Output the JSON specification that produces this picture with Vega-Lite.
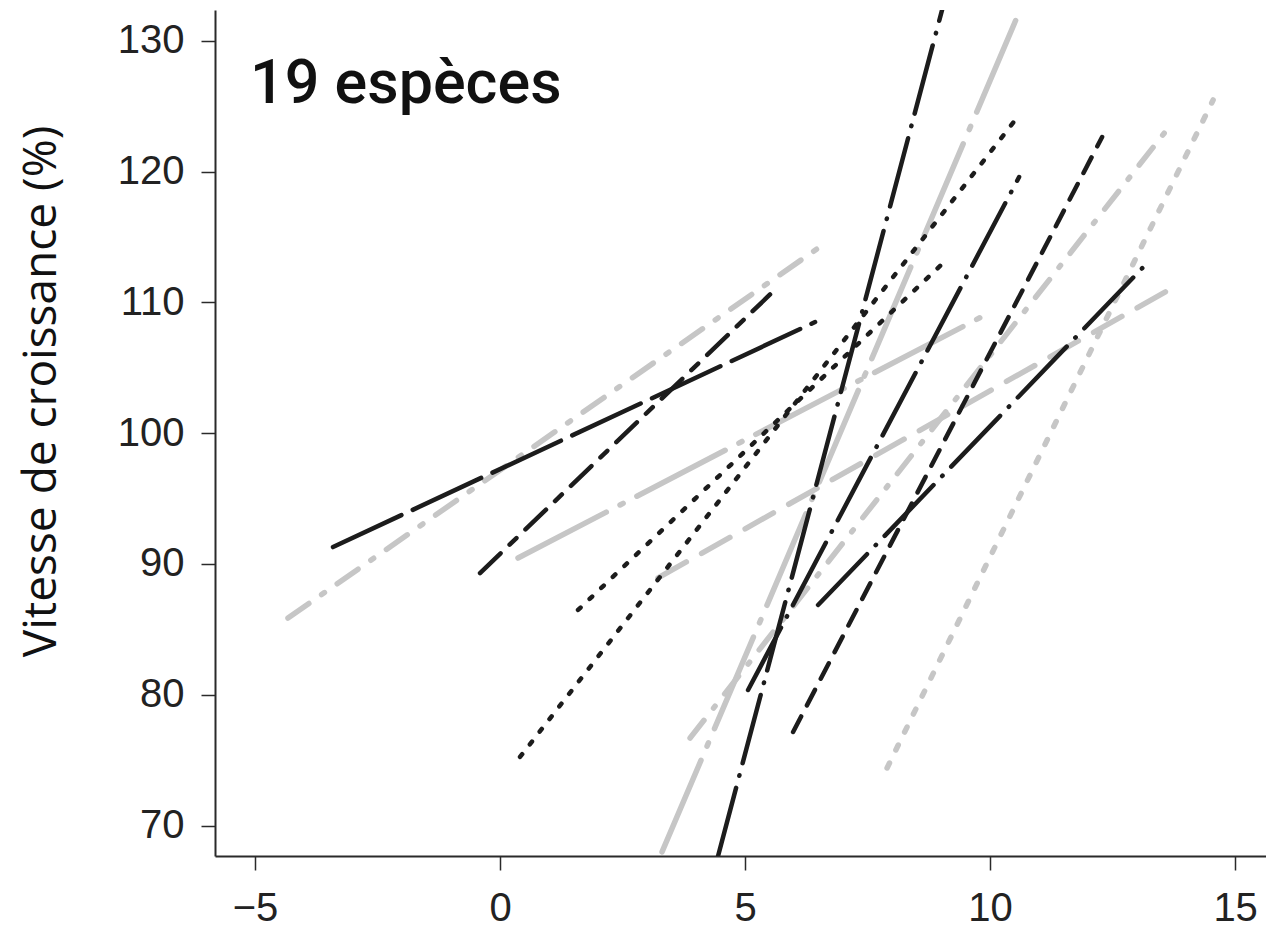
{
  "$schema": "https://vega.github.io/schema/vega-lite/v6.json",
  "width": 1051,
  "height": 846,
  "autosize": {"type": "none"},
  "padding": {"left": 215, "top": 10, "right": 0, "bottom": 76},
  "background": "white",
  "config": {
    "view": {"stroke": null},
    "axis": {
      "grid": false,
      "domainColor": "#2a2a2a",
      "domainWidth": 2,
      "tickColor": "#2a2a2a",
      "tickWidth": 1.5,
      "tickSize": 14,
      "labelFont": "Liberation Sans",
      "labelFontSize": 40,
      "labelColor": "#222"
    }
  },
  "datasets": {
    "lignes": [
      {"espece": "B1", "x": -3.408, "y": 91.29}, {"espece": "B1", "x": 6.429, "y": 108.49},
      {"espece": "G1", "x": -4.327, "y": 85.86}, {"espece": "G1", "x": 6.531, "y": 114.25},
      {"espece": "B2", "x": -0.408, "y": 89.30}, {"espece": "B2", "x": 5.510, "y": 110.6},
      {"espece": "G2", "x": 0.367, "y": 90.45}, {"espece": "G2", "x": 9.898, "y": 109.03},
      {"espece": "B3", "x": 0.408, "y": 75.24}, {"espece": "B3", "x": 10.592, "y": 124.32},
      {"espece": "B4", "x": 1.592, "y": 86.48}, {"espece": "B4", "x": 9.020, "y": 112.93},
      {"espece": "B5", "x": 4.449, "y": 67.67}, {"espece": "B5", "x": 9.020, "y": 132.35},
      {"espece": "G3", "x": 3.306, "y": 67.98}, {"espece": "G3", "x": 10.612, "y": 132.35},
      {"espece": "B6", "x": 5.061, "y": 80.36}, {"espece": "B6", "x": 10.592, "y": 119.58},
      {"espece": "B7", "x": 5.980, "y": 77.15}, {"espece": "B7", "x": 12.286, "y": 122.64},
      {"espece": "G6", "x": 3.878, "y": 76.69}, {"espece": "G6", "x": 13.571, "y": 123.02},
      {"espece": "G4", "x": 7.898, "y": 74.40}, {"espece": "G4", "x": 14.551, "y": 125.47},
      {"espece": "B8", "x": 6.490, "y": 86.86}, {"espece": "B8", "x": 13.204, "y": 113.0},
      {"espece": "G5", "x": 3.224, "y": 88.93}, {"espece": "G5", "x": 13.714, "y": 111.09}
    ],
    "note": [{"x": -5.1, "y": 125.24, "texte": "19 espèces"}]
  },
  "layer": [
    {
      "data": {"name": "lignes"},
      "transform": [{"filter": {"field": "espece", "oneOf": ["G1", "G2", "G3", "G4", "G5", "G6"]}}],
      "mark": {"type": "line", "clip": true, "strokeCap": "round", "color": "#c6c6c6", "strokeWidth": 5.5},
      "encoding": {
        "x": {"field": "x", "type": "quantitative", "scale": {"domain": [-5.816, 15.63], "nice": false, "zero": false},
              "axis": {"orient": "bottom", "values": [-5, 0, 5, 10, 15], "title": null, "labelPadding": 18}},
        "y": {"field": "y", "type": "quantitative", "scale": {"domain": [67.67, 132.35], "nice": false, "zero": false},
              "axis": {"values": [70, 80, 90, 100, 110, 120, 130], "labelPadding": 17,
                       "title": "Vitesse de croissance (%)", "titleFont": "Open Sans", "titleFontSize": 46,
                       "titleFontWeight": "normal", "titleColor": "#111", "titleAngle": -90,
                       "titleX": -160, "titleY": 381, "titleAlign": "center", "titleBaseline": "alphabetic"}},
        "detail": {"field": "espece", "type": "nominal"},
        "strokeDash": {"field": "espece", "type": "nominal", "legend": null,
          "scale": {"domain": ["B1", "B2", "B3", "B4", "B5", "B6", "B7", "B8", "G1", "G2", "G3", "G4", "G5", "G6"],
                    "range": [[75.5, 12.5], [28.5, 12.5, 9.5, 12.5], [3.5, 12.5], [3.5, 12.5], [70.5, 12.5, 0.5, 12.5], [70.5, 12.5, 0.5, 12.5], [17.5, 12.5], [70.5, 12.5, 0.5, 12.5],
                              [25.5, 15.5, 3.5, 15.5], [99.5, 15.5, 3.5, 15.5], [99.5, 15.5, 3.5, 15.5], [5.5, 14.5], [32.5, 17.5], [22.5, 15.5, 2.5, 15.5]]}}
      }
    },
    {
      "data": {"name": "lignes"},
      "transform": [{"filter": {"field": "espece", "oneOf": ["B1", "B2", "B3", "B4", "B5", "B6", "B7", "B8"]}}],
      "mark": {"type": "line", "clip": true, "strokeCap": "round", "color": "#1c1c1c", "strokeWidth": 4.5},
      "encoding": {
        "x": {"field": "x", "type": "quantitative"},
        "y": {"field": "y", "type": "quantitative"},
        "detail": {"field": "espece", "type": "nominal"},
        "strokeDash": {"field": "espece", "type": "nominal", "legend": null,
          "scale": {"domain": ["B1", "B2", "B3", "B4", "B5", "B6", "B7", "B8", "G1", "G2", "G3", "G4", "G5", "G6"],
                    "range": [[75.5, 12.5], [28.5, 12.5, 9.5, 12.5], [3.5, 12.5], [3.5, 12.5], [70.5, 12.5, 0.5, 12.5], [70.5, 12.5, 0.5, 12.5], [17.5, 12.5], [70.5, 12.5, 0.5, 12.5],
                              [25.5, 15.5, 3.5, 15.5], [99.5, 15.5, 3.5, 15.5], [99.5, 15.5, 3.5, 15.5], [5.5, 14.5], [32.5, 17.5], [22.5, 15.5, 2.5, 15.5]]}}
      }
    },
    {
      "mark": {"type": "rule", "color": "#2a2a2a", "strokeWidth": 2},
      "encoding": {"y": {"datum": 132.35}}
    },
    {
      "data": {"name": "note"},
      "mark": {"type": "text", "align": "left", "baseline": "alphabetic", "font": "Roboto", "fontSize": 61, "fontWeight": 500, "color": "#111"},
      "encoding": {
        "x": {"field": "x", "type": "quantitative"},
        "y": {"field": "y", "type": "quantitative"},
        "text": {"field": "texte"}
      }
    }
  ]
}
